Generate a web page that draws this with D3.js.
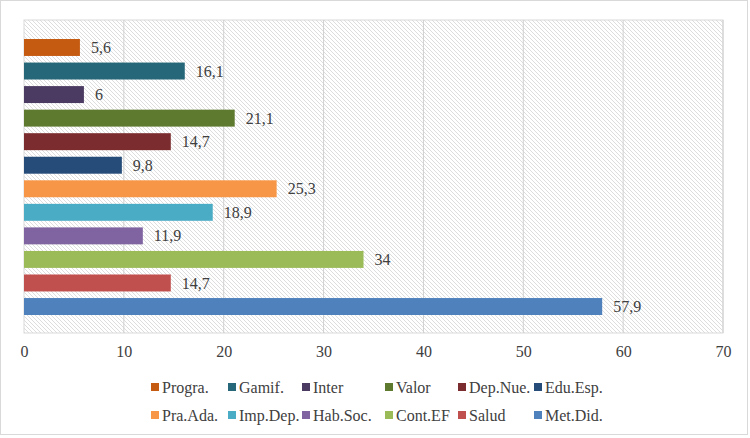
<!DOCTYPE html>
<html>
<head>
<meta charset="utf-8">
<script src="https://cdn.jsdelivr.net/npm/d3@7"></script>
<style>
  body { margin: 0; background: #fff; }
</style>
</head>
<body>
<script>
'use strict';

var categories = ["Progra.", "Gamif.", "Inter", "Valor", "Dep.Nue.", "Edu.Esp.",
                  "Pra.Ada.", "Imp.Dep.", "Hab.Soc.", "Cont.EF", "Salud", "Met.Did."];
var values = [5.6, 16.1, 6, 21.1, 14.7, 9.8, 25.3, 18.9, 11.9, 34, 14.7, 57.9];
var colors = ["#C55A11", "#26687A", "#4B3A62", "#5E7A2E", "#7B2C2E", "#264D7A",
              "#F79646", "#4BACC6", "#8064A2", "#9BBB59", "#C0504D", "#4F81BD"];
var xTicks = [0, 10, 20, 30, 40, 50, 60, 70];

var FONT = "'Liberation Serif', 'Times New Roman', serif";
var width = 750, height = 438;
var plot = {left: 24, right: 723, top: 20, bottom: 333};

var svg = d3.select("body").append("svg")
    .attr("width", width)
    .attr("height", height);

// outer chart border
svg.append("rect")
    .attr("x", 0.5).attr("y", 0.5)
    .attr("width", width - 3).attr("height", height - 4)
    .attr("fill", "#fff")
    .attr("stroke", "#d9d9d9");

// hatch pattern for the plot background
var pat = svg.append("defs").append("pattern")
    .attr("id", "hatch")
    .attr("patternUnits", "userSpaceOnUse")
    .attr("width", 4).attr("height", 4);
pat.append("path")
    .attr("d", "M-1,-1 L5,5 M-1,3 L1,5 M3,-1 L5,1")
    .attr("stroke", "#d4d4d4")
    .attr("stroke-width", 0.8);

var xScale = d3.scaleLinear()
    .domain([0, 70])
    .range([plot.left, plot.right]);

var yScale = d3.scaleBand()
    .domain(categories)
    .range([35.7, 318.3])
    .paddingInner(0.28)
    .paddingOuter(0.14);

svg.append("rect")
    .attr("x", plot.left).attr("y", plot.top)
    .attr("width", plot.right - plot.left).attr("height", plot.bottom - plot.top)
    .attr("fill", "url(#hatch)")
    .attr("stroke", "#d9d9d9");

// vertical gridlines
svg.append("g").selectAll("line")
    .data(xTicks.slice(1))
    .enter().append("line")
    .attr("x1", function(d) { return xScale(d); })
    .attr("x2", function(d) { return xScale(d); })
    .attr("y1", plot.top).attr("y2", plot.bottom)
    .attr("stroke", "#d0d0d0");

// x axis (labels only)
var xAxis = svg.append("g")
    .attr("transform", "translate(0," + plot.bottom + ")")
    .call(d3.axisBottom(xScale).tickValues(xTicks).tickSize(0).tickPadding(13));
xAxis.select(".domain").remove();
xAxis.selectAll("text")
    .style("font-family", FONT)
    .style("font-size", "16px")
    .style("fill", "#404040");

// bars
svg.append("g").selectAll("rect")
    .data(values)
    .enter().append("rect")
    .attr("x", xScale(0))
    .attr("y", function(d, i) { return yScale(categories[i]); })
    .attr("width", function(d) { return xScale(d) - xScale(0); })
    .attr("height", yScale.bandwidth())
    .attr("fill", function(d, i) { return colors[i]; });

// data labels
svg.append("g").selectAll("text")
    .data(values)
    .enter().append("text")
    .attr("x", function(d) { return xScale(d) + 11; })
    .attr("y", function(d, i) { return yScale(categories[i]) + yScale.bandwidth() / 2; })
    .attr("dy", "0.35em")
    .style("font-family", FONT)
    .style("font-size", "16px")
    .style("fill", "#404040")
    .text(function(d) { return String(d).replace(".", ","); });

// legend, two rows of six
var legendX = [151, 228, 302, 385, 458, 534];
var legendY = [387, 415];
var legend = svg.append("g").selectAll("g")
    .data(categories)
    .enter().append("g")
    .attr("transform", function(d, i) {
        return "translate(" + legendX[i % 6] + "," + legendY[Math.floor(i / 6)] + ")";
    });
legend.append("rect")
    .attr("x", 0).attr("y", -4)
    .attr("width", 8).attr("height", 8)
    .attr("fill", function(d, i) { return colors[i]; });
legend.append("text")
    .attr("x", 11).attr("dy", "0.35em")
    .style("font-family", FONT)
    .style("font-size", "16px")
    .style("fill", "#404040")
    .text(function(d) { return d; });
</script>
</body>
</html>
